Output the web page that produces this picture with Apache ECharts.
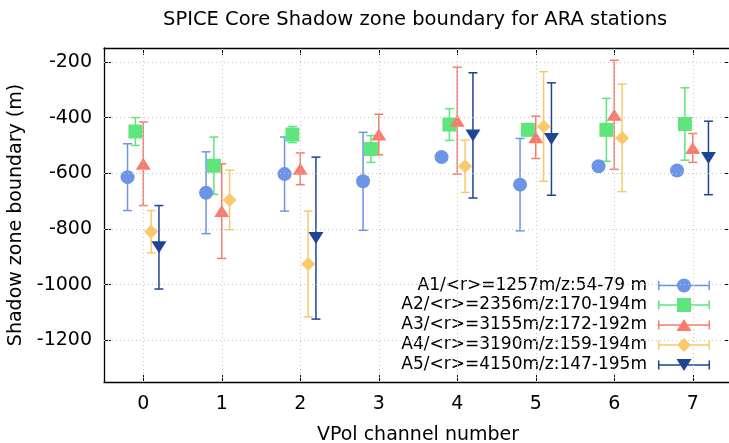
<!DOCTYPE html>
<html><head><meta charset="utf-8">
<script src="https://cdn.jsdelivr.net/npm/echarts@6/dist/echarts.min.js"></script>
<style>html,body{margin:0;padding:0;background:#fff}#c{width:729px;height:443px}</style>
</head><body><div id="c"></div>
<script>
// ---- data ----
const channels = [0, 1, 2, 3, 4, 5, 6, 7];
const xTicks = [0, 1, 2, 3, 4, 5, 6, 7];
const yTicks = [-1200, -1000, -800, -600, -400, -200];
const seriesNames = [
  'A1/<r>=1257m/z:54-79 m',
  'A2/<r>=2356m/z:170-194m',
  'A3/<r>=3155m/z:172-192m',
  'A4/<r>=3190m/z:159-194m',
  'A5/<r>=4150m/z:147-195m'
];
const a1Val = [-614, -670, -603, -629, -542, -641, -575, -590];
const a1Err = [120, 147, 133, 176, 10, 166, 10, 10];
const a2Val = [-450, -573, -461, -513, -425, -444, -444, -423];
const a2Err = [50, 103, 29, 48, 57, 10, 113, 130];
const a3Val = [-566, -736, -584, -461, -411, -471, -390, -509];
const a3Err = [150, 170, 57, 73, 192, 76, 196, 52];
const a4Val = [-810, -696, -926, null, -575, -432, -473, null];
const a4Err = [76, 107, 190, null, 94, 197, 193, null];
const a5Val = [-866, null, -833, null, -464, -477, null, -545];
const a5Err = [150, null, 291, null, 225, 202, null, 132];

// ---- styles ----
const FONT = 'DejaVu Sans';
const colors = ['#6d94e6', '#5ee67c', '#f97b6e', '#f9c96c', '#1f4496'];
const offsets = [-0.2, -0.1, 0, 0.1, 0.2];
const symbols = ['circle', 'rect', 'triangle', 'diamond', 'triangle'];
const symbolSizes = [14, 14, [15, 12], 14, [15, 12]];
const rotates = [0, 0, 0, 0, 180];
const vals = [a1Val, a2Val, a3Val, a4Val, a5Val];
const errs = [a1Err, a2Err, a3Err, a4Err, a5Err];

const base = 'M0,0 L0,14 Z M6,6.25 L58,6.25 L58,7.75 L6,7.75 Z M6,2.5 L7.5,2.5 L7.5,11.5 L6,11.5 Z M56.5,2.5 L58,2.5 L58,11.5 L56.5,11.5 Z ';
const markers = [
  'M25,7 A7,7 0 1,1 39,7 A7,7 0 1,1 25,7 Z',
  'M25,0 L39,0 L39,14 L25,14 Z',
  'M32,1 L39.5,13 L24.5,13 Z',
  'M32,0 L39,7 L32,14 L25,7 Z',
  'M24.5,1 L39.5,1 L32,13 Z'
];
const legendRowCenters = [287, 306.5, 326.5, 346.5, 366.5];

function errRender(color) {
  return function (params, api) {
    const x = api.value(0), lo = api.value(1), hi = api.value(2);
    const pLo = api.coord([x, lo]), pHi = api.coord([x, hi]);
    const cap = 4.5;
    const st = { stroke: color, lineWidth: 1.5 };
    return {
      type: 'group', children: [
        { type: 'line', shape: { x1: pLo[0], y1: pLo[1], x2: pHi[0], y2: pHi[1] }, style: st },
        { type: 'line', shape: { x1: pLo[0] - cap, y1: pLo[1], x2: pLo[0] + cap, y2: pLo[1] }, style: st },
        { type: 'line', shape: { x1: pHi[0] - cap, y1: pHi[1], x2: pHi[0] + cap, y2: pHi[1] }, style: st }
      ]
    };
  };
}

const gridStyle = { color: '#c8c8b8', type: [1, 3], width: 1 };
const series = [{
  name: 'grid', type: 'scatter', data: [], silent: true, z: 1,
  markLine: {
    silent: true, symbol: 'none', animation: false, label: { show: false },
    lineStyle: gridStyle,
    data: xTicks.map(v => ({ xAxis: v })).concat(yTicks.map(v => ({ yAxis: v })))
  }
}];
for (let s = 0; s < 5; s++) {
  const bars = [];
  channels.forEach((c, i) => {
    const v = vals[s][i];
    if (v === null) return;
    const x = c + offsets[s];
    bars.push([x, v - errs[s][i], v + errs[s][i]]);
  });
  series.push({
    name: 'err' + s, type: 'custom', renderItem: errRender(colors[s]),
    data: bars, encode: { x: 0, y: [1, 2] }, z: 2, silent: true
  });
}
for (let s = 0; s < 5; s++) {
  const pts = [];
  channels.forEach((c, i) => {
    const v = vals[s][i];
    if (v === null) return;
    pts.push([c + offsets[s], v]);
  });
  series.push({
    name: seriesNames[s], type: 'scatter', data: pts,
    symbol: symbols[s], symbolSize: symbolSizes[s], symbolRotate: rotates[s],
    itemStyle: { color: colors[s], opacity: 1 }, z: 3
  });
}

const legends = seriesNames.map((n, i) => ({
  data: [n], orient: 'vertical', right: 19, top: legendRowCenters[i] - 10,
  align: 'right', itemWidth: 58, itemHeight: 14, padding: 0, itemGap: 0,
  icon: 'path://' + base + markers[i], selectedMode: false,
  textStyle: { fontSize: 17, fontFamily: FONT, color: '#000' }
}));

const axLine = { show: true, onZero: false, lineStyle: { color: '#000', width: 1.3 } };
const plain = v => String(v);

const option = {
  backgroundColor: '#fff',
  animation: false,
  title: {
    text: 'SPICE Core Shadow zone boundary for ARA stations',
    left: 163, top: 10, padding: 0,
    textStyle: { fontSize: 19.5, fontWeight: 'normal', fontFamily: FONT, color: '#000' }
  },
  legend: legends,
  grid: { left: 104, right: -3, top: 48, bottom: 61, containLabel: false, outerBoundsMode: 'none' },
  xAxis: [{
    type: 'value', min: -0.5, max: 7.5, position: 'bottom',
    name: 'VPol channel number', nameLocation: 'middle', nameGap: 44,
    nameTextStyle: { fontSize: 19, fontFamily: FONT, color: '#000' },
    axisLine: axLine,
    axisTick: { show: true, inside: true, length: 7, customValues: xTicks, lineStyle: { color: '#000' } },
    axisLabel: { show: true, customValues: xTicks, margin: 13, fontSize: 19, fontFamily: FONT, color: '#000', formatter: plain },
    splitLine: { show: false }
  }, {
    type: 'value', min: -0.5, max: 7.5, position: 'top',
    axisLine: axLine,
    axisTick: { show: true, inside: true, length: 7, customValues: xTicks, lineStyle: { color: '#000' } },
    axisLabel: { show: false }, splitLine: { show: false }
  }],
  yAxis: [{
    type: 'value', min: -1350, max: -150, position: 'left',
    name: 'Shadow zone boundary (m)', nameLocation: 'middle', nameGap: 68,
    nameTextStyle: { fontSize: 19, fontFamily: FONT, color: '#000' },
    axisLine: axLine,
    axisTick: { show: true, inside: true, length: 7, customValues: yTicks, lineStyle: { color: '#000' } },
    axisLabel: { show: true, customValues: yTicks, margin: 12, fontSize: 19, fontFamily: FONT, color: '#000', formatter: plain },
    splitLine: { show: false }
  }, {
    type: 'value', min: -1350, max: -150, position: 'right',
    axisLine: axLine,
    axisTick: { show: true, inside: true, length: 7, customValues: yTicks, lineStyle: { color: '#000' } },
    axisLabel: { show: false }, splitLine: { show: false }
  }],
  series: series
};
const chart = echarts.init(document.getElementById('c'), null, { renderer: 'canvas' });
chart.setOption(option);
</script></body></html>
